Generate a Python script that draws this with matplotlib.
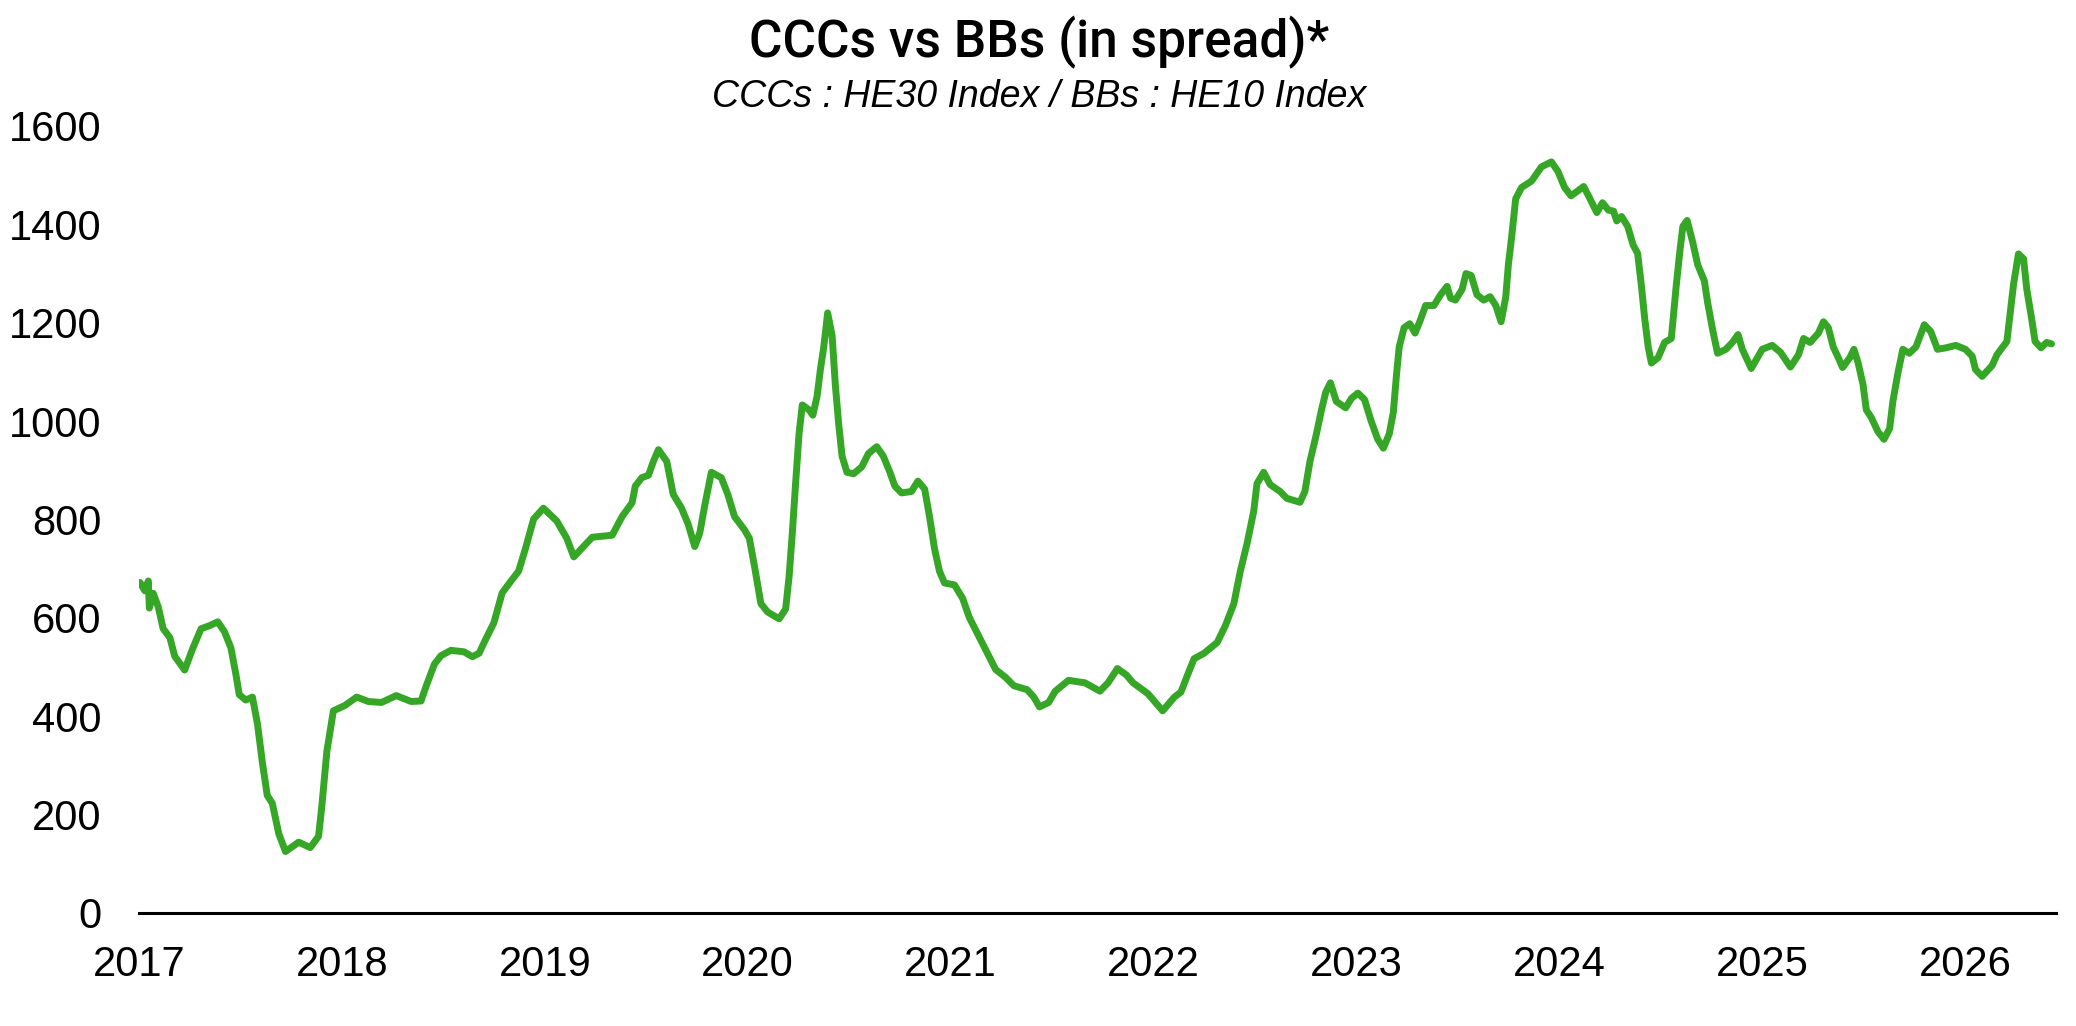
import matplotlib
matplotlib.use("Agg")
import matplotlib.pyplot as plt

# ---- data (fractional year, spread in bp) ----
years = [
    2017.005, 2017.029, 2017.046, 2017.051, 2017.070, 2017.095, 2017.119, 2017.152, 2017.176, 2017.225,
    2017.266, 2017.306, 2017.347, 2017.388, 2017.421, 2017.453, 2017.478, 2017.494, 2017.526, 2017.559,
    2017.584, 2017.608, 2017.632, 2017.657, 2017.689, 2017.722, 2017.787, 2017.844, 2017.885, 2017.901,
    2017.926, 2017.958, 2018.015, 2018.073, 2018.130, 2018.195, 2018.268, 2018.341, 2018.390, 2018.415,
    2018.456, 2018.488, 2018.537, 2018.602, 2018.643, 2018.676, 2018.708, 2018.749, 2018.790, 2018.830,
    2018.871, 2018.904, 2018.945, 2018.993, 2019.059, 2019.108, 2019.143, 2019.234, 2019.332, 2019.381,
    2019.430, 2019.446, 2019.478, 2019.511, 2019.535, 2019.560, 2019.601, 2019.633, 2019.674, 2019.707,
    2019.739, 2019.764, 2019.788, 2019.821, 2019.870, 2019.902, 2019.935, 2019.984, 2020.008, 2020.033,
    2020.065, 2020.098, 2020.155, 2020.187, 2020.204, 2020.220, 2020.236, 2020.253, 2020.269, 2020.302,
    2020.321, 2020.342, 2020.359, 2020.375, 2020.394, 2020.416, 2020.432, 2020.448, 2020.465, 2020.489,
    2020.522, 2020.562, 2020.595, 2020.636, 2020.668, 2020.701, 2020.725, 2020.758, 2020.807, 2020.839,
    2020.872, 2020.896, 2020.921, 2020.945, 2020.970, 2021.019, 2021.059, 2021.092, 2021.141, 2021.182,
    2021.222, 2021.271, 2021.312, 2021.377, 2021.410, 2021.438, 2021.483, 2021.516, 2021.581, 2021.662,
    2021.736, 2021.776, 2021.822, 2021.866, 2021.899, 2021.972, 2022.045, 2022.103, 2022.135, 2022.168,
    2022.200, 2022.249, 2022.314, 2022.355, 2022.396, 2022.428, 2022.461, 2022.494, 2022.510, 2022.543,
    2022.575, 2022.624, 2022.657, 2022.722, 2022.746, 2022.771, 2022.803, 2022.828, 2022.849, 2022.872,
    2022.901, 2022.947, 2022.975, 2023.007, 2023.040, 2023.072, 2023.105, 2023.133, 2023.162, 2023.182,
    2023.198, 2023.211, 2023.235, 2023.263, 2023.289, 2023.312, 2023.341, 2023.382, 2023.415, 2023.447,
    2023.464, 2023.488, 2023.521, 2023.540, 2023.566, 2023.594, 2023.627, 2023.659, 2023.687, 2023.713,
    2023.736, 2023.749, 2023.765, 2023.785, 2023.814, 2023.863, 2023.912, 2023.961, 2023.993, 2024.026,
    2024.058, 2024.120, 2024.144, 2024.185, 2024.213, 2024.242, 2024.267, 2024.283, 2024.307, 2024.337,
    2024.364, 2024.386, 2024.405, 2024.421, 2024.438, 2024.454, 2024.487, 2024.519, 2024.552, 2024.576,
    2024.593, 2024.609, 2024.630, 2024.658, 2024.682, 2024.715, 2024.731, 2024.756, 2024.780, 2024.821,
    2024.853, 2024.881, 2024.902, 2024.946, 2025.000, 2025.049, 2025.090, 2025.139, 2025.179, 2025.204,
    2025.236, 2025.277, 2025.302, 2025.326, 2025.350, 2025.375, 2025.396, 2025.432, 2025.452, 2025.473,
    2025.497, 2025.513, 2025.538, 2025.570, 2025.600, 2025.628, 2025.644, 2025.668, 2025.693, 2025.725,
    2025.758, 2025.799, 2025.831, 2025.864, 2025.905, 2025.954, 2026.002, 2026.035, 2026.051, 2026.084,
    2026.133, 2026.157, 2026.206, 2026.222, 2026.239, 2026.263, 2026.288, 2026.304, 2026.328, 2026.345,
    2026.374, 2026.402, 2026.426,
]
spread = [
    672, 655, 675, 620, 650, 622, 578, 560, 522, 494,
    539, 578, 584, 592, 572, 539, 484, 444, 433, 439,
    384, 306, 239, 223, 161, 125, 144, 133, 156, 217,
    329, 411, 422, 439, 430, 428, 442, 430, 431, 461,
    506, 523, 534, 531, 521, 528, 556, 590, 651, 673,
    695, 740, 801, 823, 797, 762, 724, 764, 768, 806,
    834, 868, 885, 890, 918, 942, 918, 851, 823, 790,
    745, 773, 828, 896, 885, 851, 806, 779, 762, 706,
    629, 612, 598, 618, 684, 773, 873, 974, 1033, 1023,
    1012, 1051, 1107, 1151, 1220, 1174, 1073, 996, 929, 896,
    893, 907, 934, 948, 929, 896, 868, 854, 857, 878,
    862, 806, 740, 695, 671, 667, 640, 601, 561, 528,
    495, 479, 462, 454, 439, 419, 428, 451, 473, 468,
    451, 468, 497, 484, 468, 446, 411, 439, 449, 484,
    517, 528, 550, 585, 629, 695, 751, 817, 873, 896,
    871, 857, 843, 835, 857, 918, 974, 1023, 1059, 1078,
    1040, 1027, 1046, 1057, 1044, 1001, 963, 945, 974, 1018,
    1096, 1151, 1190, 1198, 1179, 1202, 1235, 1235, 1257, 1274,
    1250, 1246, 1268, 1300, 1296, 1257, 1246, 1253, 1235, 1202,
    1252, 1318, 1374, 1452, 1475, 1488, 1517, 1527, 1508, 1475,
    1458, 1477, 1458, 1424, 1444, 1429, 1427, 1407, 1416, 1396,
    1358, 1341, 1274, 1208, 1151, 1118, 1129, 1160, 1168, 1274,
    1341, 1396, 1408, 1363, 1318, 1285, 1241, 1185, 1138, 1146,
    1160, 1176, 1146, 1107, 1146, 1154, 1140, 1110, 1135, 1168,
    1160, 1179, 1202, 1190, 1151, 1129, 1109, 1129, 1146, 1118,
    1074, 1023, 1007, 979, 963, 985, 1040, 1096, 1146, 1138,
    1151, 1196, 1182, 1146, 1149, 1154, 1146, 1132, 1105, 1091,
    1113, 1135, 1162, 1219, 1279, 1340, 1330, 1268, 1208, 1162,
    1149, 1160, 1157,
]
year_ticks = [2017, 2018, 2019, 2020, 2021, 2022, 2023, 2024, 2025, 2026]
y_ticks = [0, 200, 400, 600, 800, 1000, 1200, 1400, 1600]
title = "CCCs vs BBs (in spread)*"
subtitle = "CCCs : HE30 Index / BBs : HE10 Index"

plt.rcParams['font.family'] = ['Liberation Sans', 'DejaVu Sans']

fig = plt.figure(figsize=(20.76, 10.26), dpi=100)
ax = fig.add_axes([139 / 2076, 1 - 913 / 1026, (2056 - 139) / 2076, (913 - 126) / 1026])

ax.plot(years, spread, color='#36A626', lw=5.0, solid_joinstyle='round', solid_capstyle='round')

ax.set_xlim(2017.0, 2026.448)
ax.set_ylim(0, 1600)
ax.set_xticks(year_ticks)
ax.set_xticklabels([str(y) for y in year_ticks])
ax.set_yticks(y_ticks)
ax.set_yticklabels([str(v) for v in y_ticks])
ax.tick_params(axis='both', length=0, labelsize=30, colors='black')
ax.tick_params(axis='x', pad=23)
ax.tick_params(axis='y', pad=27)

for s in ['top', 'right', 'left']:
    ax.spines[s].set_visible(False)
ax.spines['bottom'].set_linewidth(2.2)
ax.spines['bottom'].set_color('black')

fig.text(0.5005, 1 - 57 / 1026, title, ha='center', va='baseline', fontsize=37,
         family=['Roboto', 'Liberation Sans', 'DejaVu Sans'], fontweight='medium')
fig.text(0.5005, 1 - 107 / 1026, subtitle, ha='center', va='baseline', fontsize=27, style='italic')

fig.savefig('out.png', dpi=100, facecolor='white')
